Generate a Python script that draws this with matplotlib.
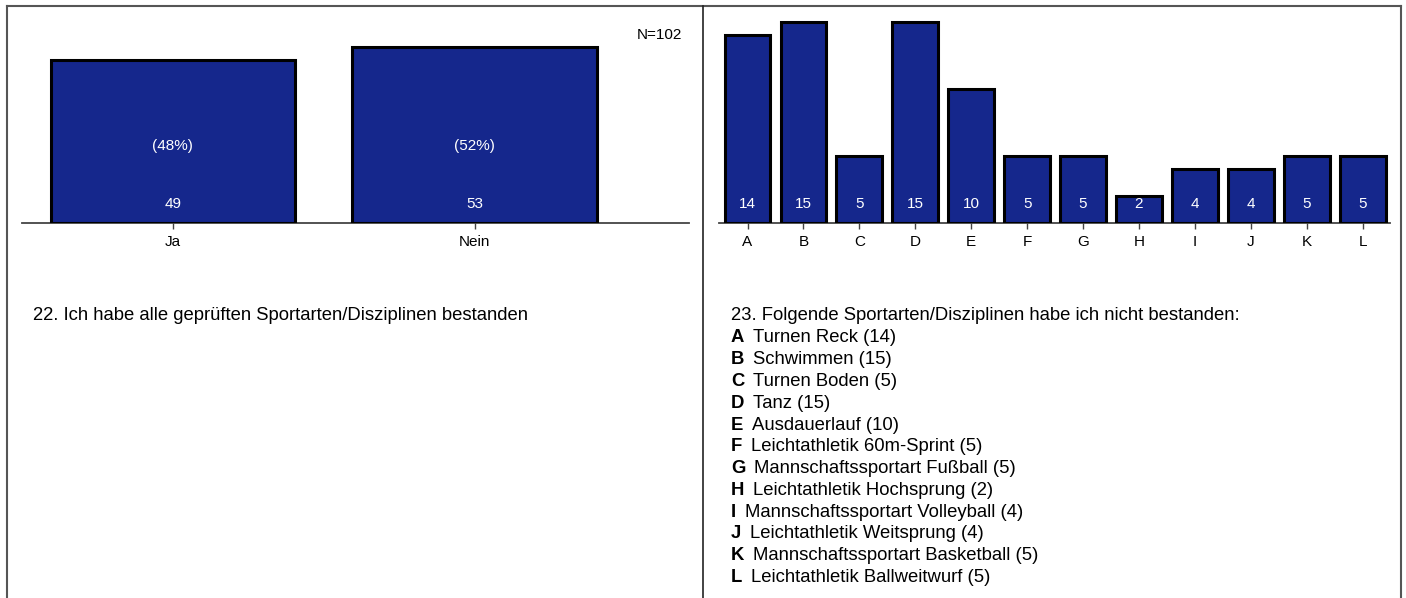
import matplotlib
matplotlib.use('Agg')
import matplotlib.pyplot as plt
from matplotlib.lines import Line2D

plt.rcParams['font.family'] = ['Liberation Sans', 'DejaVu Sans']

# Daten
ja_nein = ['Ja', 'Nein']
ja_nein_n = [49, 53]
ja_nein_pct = [48, 52]
n_gesamt = 102

buchstaben = ['A', 'B', 'C', 'D', 'E', 'F', 'G', 'H', 'I', 'J', 'K', 'L']
nicht_bestanden = [14, 15, 5, 15, 10, 5, 5, 2, 4, 4, 5, 5]
disziplinen = ['Turnen Reck', 'Schwimmen', 'Turnen Boden', 'Tanz', 'Ausdauerlauf',
               'Leichtathletik 60m-Sprint', 'Mannschaftssportart Fußball',
               'Leichtathletik Hochsprung', 'Mannschaftssportart Volleyball',
               'Leichtathletik Weitsprung', 'Mannschaftssportart Basketball',
               'Leichtathletik Ballweitwurf']

titel22 = '22. Ich habe alle geprüften Sportarten/Disziplinen bestanden'
titel23 = '23. Folgende Sportarten/Disziplinen habe ich nicht bestanden:'

W, H = 1406, 598
fig = plt.figure(figsize=(W / 100, H / 100), dpi=100)
farbe = '#15278c'

def fx(x):
    return x / W

def fy(y):
    return 1 - y / H

basis = 223
oben = 10

def balken(ax, werte, labels, breite):
    x = range(len(werte))
    ax.bar(x, werte, width=breite, color=farbe, edgecolor='black', linewidth=2.2, zorder=3)
    ax.set_xticks(list(x))
    ax.set_xticklabels(labels, fontsize=11)
    ax.tick_params(axis='x', direction='inout', length=8, width=1, color='#444444', pad=5)
    ax.set_yticks([])
    for s in ['top', 'right', 'left']:
        ax.spines[s].set_visible(False)
    ax.spines['bottom'].set_color('#444444')
    ax.spines['bottom'].set_linewidth(1.3)
    for i, v in enumerate(werte):
        ax.annotate(str(v), (i, 0), xytext=(0, 19), textcoords='offset pixels',
                    ha='center', va='center', color='white', fontsize=11, zorder=4)

# links
ax1 = fig.add_axes([fx(22), fy(basis), fx(689 - 22), (basis - oben) / H])
balken(ax1, ja_nein_n, ja_nein, 0.81)
ax1.set_xlim(-0.5, 1.71)
ax1.set_ylim(0, (basis - oben) / 3.32)
for i, p in enumerate(ja_nein_pct):
    ax1.annotate('(%d%%)' % p, (i, 0), xytext=(0, 77), textcoords='offset pixels',
                 ha='center', va='center', color='white', fontsize=11, zorder=4)
fig.text(fx(682), fy(35), 'N=%d' % n_gesamt, ha='right', va='center', fontsize=11)

# rechts
ax2 = fig.add_axes([fx(719), fy(basis), fx(1390 - 719), (basis - oben) / H])
balken(ax2, nicht_bestanden, buchstaben, 0.82)
ax2.set_xlim(-0.51, 11.49)
ax2.set_ylim(0, (basis - oben) / 13.4)

# Texte
fig.text(fx(33), fy(316), titel22, ha='left', va='center', fontsize=13.3)
fig.text(fx(731), fy(316), titel23, ha='left', va='center', fontsize=13.3)
zeile = 21.8
for i, (b, d, n) in enumerate(zip(buchstaben, disziplinen, nicht_bestanden)):
    y = fy(316 + zeile * (i + 1))
    t = fig.text(fx(731), y, b, ha='left', va='center', fontsize=13.3, weight='bold')
    # Name direkt hinter dem fetten Buchstaben
    fig.add_artist(plt.Annotation('%s (%d)' % (d, n), xy=(1, 0.5), xycoords=t,
                                  xytext=(9, 0), textcoords='offset pixels',
                                  ha='left', va='center', fontsize=13.3))

# Rahmen
rahmen = '#555555'
fig.add_artist(Line2D([fx(6.5), fx(6.5)], [0, fy(6)], color=rahmen, lw=1.5))
fig.add_artist(Line2D([fx(6.5), fx(1401)], [fy(6), fy(6)], color=rahmen, lw=1.5))
fig.add_artist(Line2D([fx(1401), fx(1401)], [0, fy(6)], color=rahmen, lw=1.5))
fig.add_artist(Line2D([fx(703), fx(703)], [0, fy(6)], color='#222222', lw=1.2))

fig.savefig('out.png', dpi=100)
